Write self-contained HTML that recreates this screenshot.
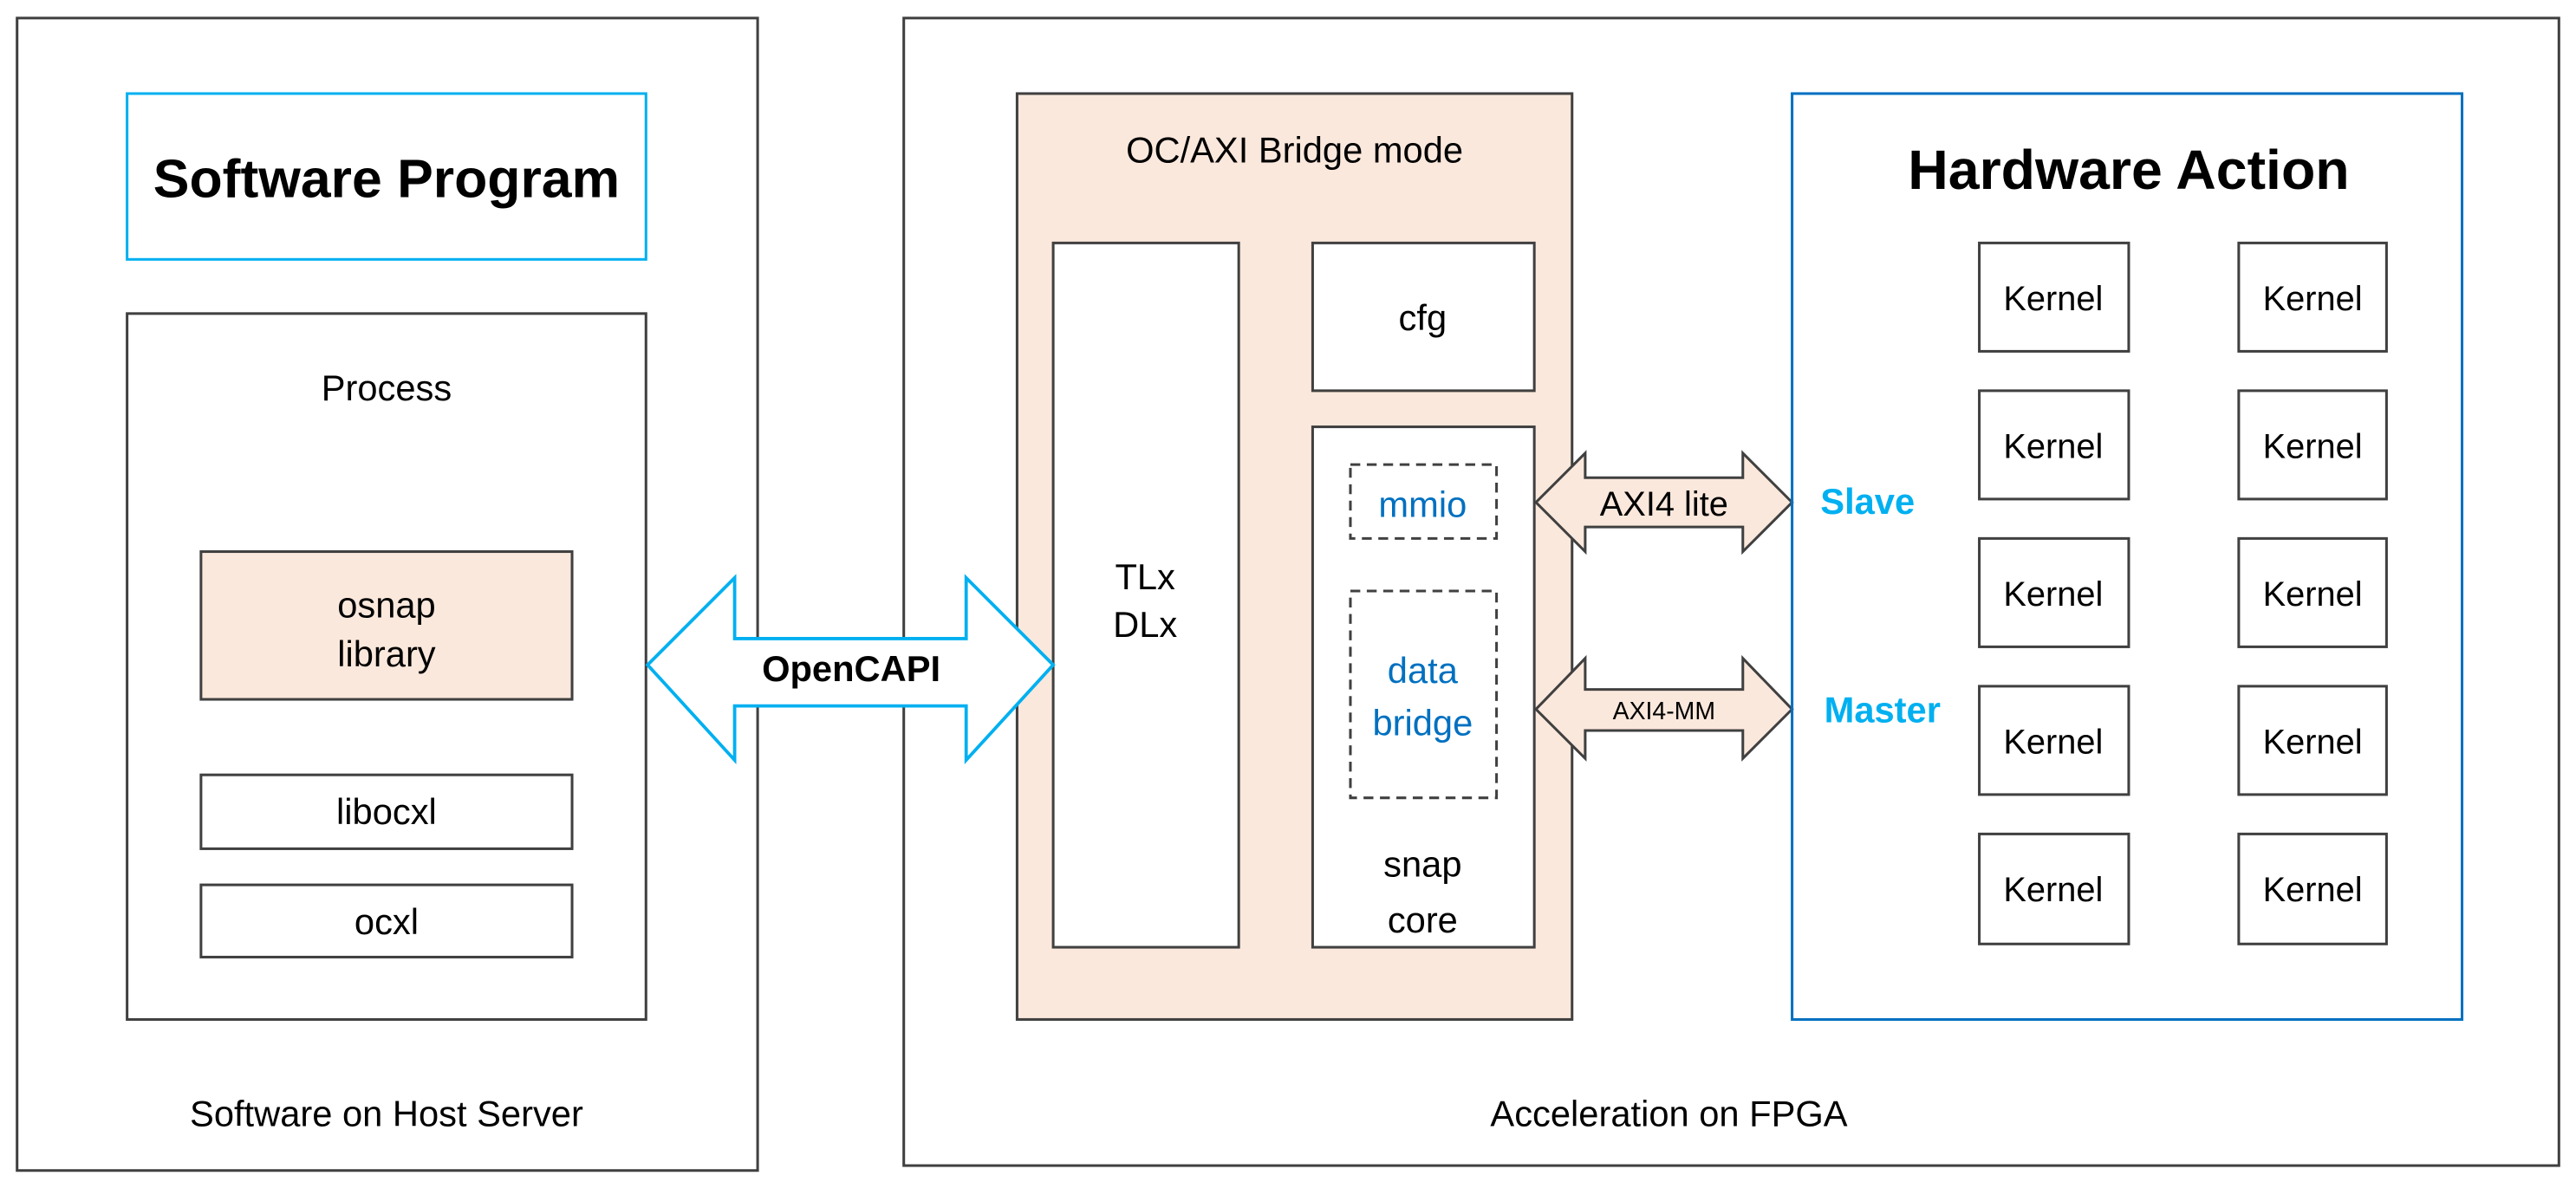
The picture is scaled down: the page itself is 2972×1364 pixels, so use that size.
<!DOCTYPE html>
<html><head><meta charset="utf-8"><style>html,body{margin:0;padding:0;background:#fff}svg{display:block}</style></head>
<body>
<svg width="2972" height="1364" viewBox="0 0 1568 720" xmlns="http://www.w3.org/2000/svg" font-family="Liberation Sans, sans-serif">
<rect width="1568" height="720" fill="#fff"/>
<g stroke="#404040" stroke-width="1.6" fill="none">
<rect x="10" y="11" width="451" height="702"/>
<rect x="550" y="11" width="1008" height="699"/>
<rect x="77" y="191" width="316" height="430"/>
<rect x="122" y="336" width="226" height="90" fill="#fbe8dc"/>
<rect x="122" y="472" width="226" height="45"/>
<rect x="122" y="539" width="226" height="44"/>
<rect x="619" y="57" width="338" height="564" fill="#fbe8dc"/>
<rect x="641" y="148" width="113" height="429" fill="#fff"/>
<rect x="799" y="148" width="135" height="90" fill="#fff"/>
<rect x="799" y="260" width="135" height="317" fill="#fff"/>
<rect x="822" y="283" width="89" height="45" stroke-dasharray="6,4"/>
<rect x="822" y="360" width="89" height="126" stroke-dasharray="6,4"/>
<path d="M935,306 L965,276 L965,291 L1061,291 L1061,276 L1091,306 L1061,336 L1061,321 L965,321 L965,336 Z" fill="#fbe8dc"/>
<path d="M935,432 L965,401 L965,420 L1061,420 L1061,401 L1091,432 L1061,462 L1061,445 L965,445 L965,462 Z" fill="#fbe8dc"/>
<g>
<rect x="1205" y="148" width="91" height="66"/><rect x="1363" y="148" width="90" height="66"/>
<rect x="1205" y="238" width="91" height="66"/><rect x="1363" y="238" width="90" height="66"/>
<rect x="1205" y="328" width="91" height="66"/><rect x="1363" y="328" width="90" height="66"/>
<rect x="1205" y="418" width="91" height="66"/><rect x="1363" y="418" width="90" height="66"/>
<rect x="1205" y="508" width="91" height="67"/><rect x="1363" y="508" width="90" height="67"/>
</g>
</g>
<rect x="77" y="57" width="316" height="101" fill="none" stroke="#00b0f0" stroke-width="1.6"/>
<rect x="1091" y="57" width="408" height="564" fill="none" stroke="#0070c0" stroke-width="1.6"/>
<path d="M394,405 L447,352 L447,389 L588,389 L588,352 L641,405 L588,463 L588,430 L447,430 L447,463 Z" fill="#fff" stroke="#00b0f0" stroke-width="2"/>
<g text-anchor="middle" fill="#000" font-size="22">
<text x="235" y="120" font-size="33" font-weight="bold">Software Program</text>
<text x="235" y="244">Process</text>
<text x="235" y="376">osnap</text>
<text x="235" y="406">library</text>
<text x="235" y="502">libocxl</text>
<text x="235" y="569">ocxl</text>
<text x="235" y="686">Software on Host Server</text>
<text x="1016" y="686">Acceleration on FPGA</text>
<text x="788" y="99">OC/AXI Bridge mode</text>
<text x="697" y="359">TLx</text>
<text x="697" y="388">DLx</text>
<text x="866" y="201">cfg</text>
<text x="866" y="534">snap</text>
<text x="866" y="568">core</text>
<text x="866" y="315" fill="#0070c0">mmio</text>
<text x="866" y="416" fill="#0070c0">data</text>
<text x="866" y="448" fill="#0070c0">bridge</text>
<text x="1013" y="314" font-size="21">AXI4 lite</text>
<text x="1013" y="438" font-size="15">AXI4-MM</text>
<text x="518" y="415" font-weight="bold">OpenCAPI</text>
<text x="1296" y="115" font-size="34" font-weight="bold">Hardware Action</text>
<text x="1137" y="313" font-weight="bold" fill="#00b0f0">Slave</text>
<text x="1146" y="440" font-weight="bold" fill="#00b0f0">Master</text>
<g font-size="21">
<text x="1250" y="189">Kernel</text><text x="1408" y="189">Kernel</text>
<text x="1250" y="279">Kernel</text><text x="1408" y="279">Kernel</text>
<text x="1250" y="369">Kernel</text><text x="1408" y="369">Kernel</text>
<text x="1250" y="459">Kernel</text><text x="1408" y="459">Kernel</text>
<text x="1250" y="549">Kernel</text><text x="1408" y="549">Kernel</text>
</g>
</g>
</svg>
</body></html>
